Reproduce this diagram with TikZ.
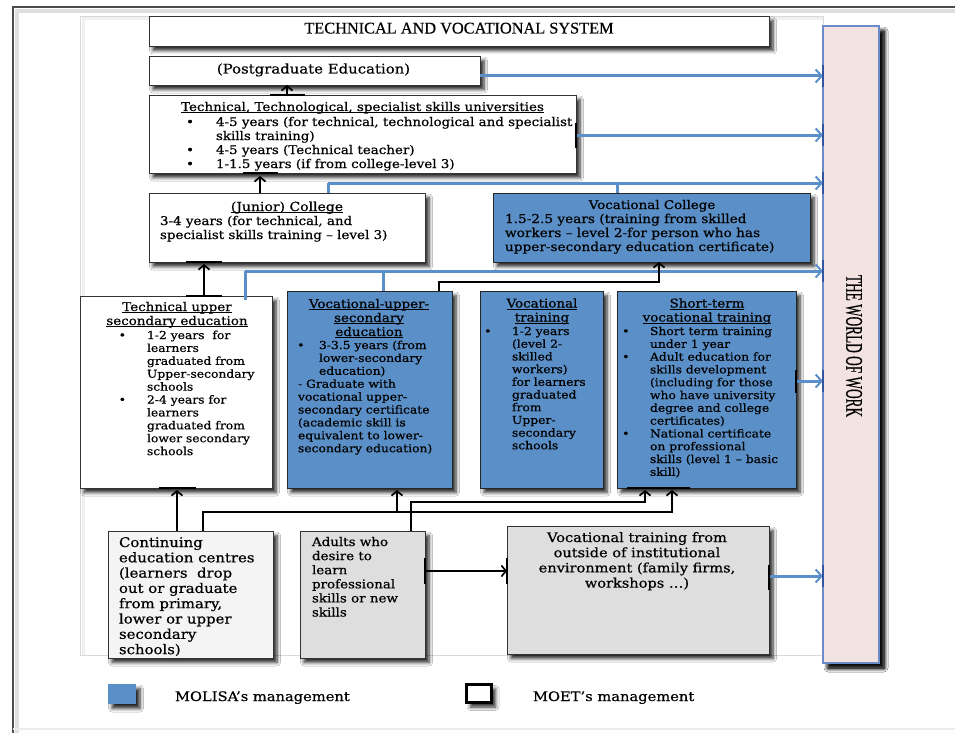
\documentclass[tikz,border=0pt]{standalone}
\usepackage{fontspec}
\setmainfont[FakeStretch=1.12,FakeBold=0.6]{DejaVu Serif}
\newfontfamily\ttlfont[FakeBold=0.4]{Liberation Serif}
\newcommand\ulx[1]{\setbox0\hbox{#1}\rlap{\rule[-2pt]{\wd0}{0.8pt}}\box0}
\usetikzlibrary{arrows.meta,shadows.blur}
\definecolor{molisa}{HTML}{5A8FC7}
\definecolor{bline}{HTML}{5B8FC9}
\definecolor{bdark}{HTML}{2F55A4}
\definecolor{wwfill}{HTML}{F2E2E0}
\definecolor{wwedge}{HTML}{6B8CC9}
\definecolor{greybox}{HTML}{DEDEDE}
\definecolor{lightbox}{HTML}{F4F4F4}
\newcommand\fs{\rule{0pt}{10pt}}
\newcommand\bu[1]{\llap{•\hspace{#1}}}
\begin{document}
\begin{tikzpicture}[x=1pt,y=-1pt,
  shad/.style={blur shadow={shadow xshift=4pt,shadow yshift=-4.5pt,shadow blur steps=6,shadow blur radius=3.5pt,shadow opacity=85}},
  box/.style={draw=black!80,line width=0.9pt,fill=white,anchor=north west,inner sep=0pt,outer sep=0pt,shad},
  bluebox/.style={box,fill=molisa,draw=black!85},
  greybx/.style={box,fill=greybox},
  txt/.style={align=left,anchor=north west,inner sep=0pt,outer sep=0pt,font=\fontsize{12}{14}\selectfont},
  smalltxt/.style={txt,font=\fontsize{11}{12.9}\selectfont},
  ttl/.style={inner sep=0pt,outer sep=0pt,anchor=base,font=\fontsize{12}{14}\selectfont},
  ttlc/.style={align=center,anchor=north,inner sep=0pt,outer sep=0pt,font=\fontsize{12}{14}\selectfont},
  blk/.style={line width=2.3pt,black,-{Straight Barb[length=4.5pt,width=11pt,line width=1.7pt]}},
  thinarr/.style={line width=1.1pt,black,-{Straight Barb[length=4.5pt,width=11pt,line width=1.7pt]}},
  barl/.style={line width=2.4pt,black},
  bluearr/.style={line width=3pt,bline,-{Straight Barb[length=6pt,width=13pt,line width=2pt]}},
  blueln/.style={line width=3pt,bline},
  bdarkl/.style={line width=2.5pt,bdark}
]
\useasboundingbox (0,0) rectangle (955,733);
\fill[white] (0,0) rectangle (955,733);
% outer frame
\draw[gray!25,line width=4pt] (17,733) -- (17,11) -- (955,11);
\draw[black!70,line width=1.3pt] (13,733) -- (13,7) -- (955,7);
\draw[gray!15,line width=1.5pt] (13,729) -- (955,729);
% inner frame
\draw[gray!12,line width=3pt] (83,655) -- (83,19) -- (823,19);
\draw[gray!30,line width=0.8pt] (80,655) -- (80,16) -- (823,16) -- (823,26);
\draw[gray!30,line width=0.8pt] (80,655) -- (823,655);

% boxes
\node[box,minimum width=620pt,minimum height=30pt] (tv) at (149,16) {};
\node[inner sep=0pt,anchor=base,font=\ttlfont\fontsize{16.3}{18}\selectfont] (tvt) at (459,33.5) {TECHNICAL AND VOCATIONAL SYSTEM};

\node[box,minimum width=331pt,minimum height=29pt] (pg) at (149,56) {};
\node[ttl,font=\fontsize{13.3}{15}\selectfont] (pgt) at (313.5,73.5) {(Postgraduate Education)};

\node[box,minimum width=427pt,minimum height=78pt] (un) at (149,95) {};
\node[ttl] (unt) at (362.5,111) {\ulx{Technical, Technological, specialist skills universities}};
\node[txt] (unb) at (216,116) {\fs\bu{22pt}4-5 years (for technical, technological and specialist\\skills training)\\\bu{22pt}4-5 years (Technical teacher)\\\bu{22pt}1-1.5 years (if from college-level 3)};

\node[box,minimum width=276pt,minimum height=69pt] (jc) at (149,193) {};
\node[ttl,font=\fontsize{12.5}{14}\selectfont] (jct) at (287,211) {\ulx{(Junior) College}};
\node[txt] (jcb) at (160,215) {\fs 3-4 years (for technical, and\\specialist skills training – level 3)};

\node[bluebox,minimum width=317pt,minimum height=69pt] (vc) at (493,193) {};
\node[ttl] (vct) at (652,209) {Vocational College};
\node[txt,font=\fontsize{12.2}{14}\selectfont] (vcb) at (505,213) {\fs 1.5-2.5 years (training from skilled\\workers – level 2-for person who has\\upper-secondary education certificate)};

\node[box,minimum width=192pt,minimum height=192pt] (tus) at (80,296) {};
\node[ttlc] (tust) at (177,301) {\fs\ulx{Technical upper}\\\ulx{secondary education}};
\node[smalltxt] (tusb) at (147,329) {\fs\bu{21pt}1-2 years\ \ for\\learners\\graduated from\\Upper-secondary\\schools\\\bu{21pt}2-4 years for\\learners\\graduated from\\lower secondary\\schools};

\node[bluebox,minimum width=165pt,minimum height=197pt] (vus) at (287,291) {};
\node[ttlc] (vust) at (369,298) {\fs\ulx{Vocational-upper-}\\\ulx{secondary}\\\ulx{education}};
\node[smalltxt] (vusb) at (298,339) {\fs\hspace*{21pt}\bu{14.5pt}3-3.5 years (from\\\hspace*{21pt}lower-secondary\\\hspace*{21pt}education)\\- Graduate with\\vocational upper-\\secondary certificate\\(academic skill is\\equivalent to lower-\\secondary education)};

\node[bluebox,minimum width=123pt,minimum height=197pt] (vt) at (480,291) {};
\node[ttlc] (vtt) at (542,297.5) {\fs\ulx{Vocational}\\\ulx{training}};
\node[smalltxt,font=\fontsize{11}{12.7}\selectfont] (vtb) at (512,325) {\fs\bu{20.5pt}1-2 years\\(level 2-\\skilled\\workers)\\for learners\\graduated\\from\\Upper-\\secondary\\schools};

\node[bluebox,minimum width=179pt,minimum height=197pt] (st) at (617,291) {};
\node[ttlc] (stt) at (707,297.5) {\fs\ulx{Short-term}\\\ulx{vocational training}};
\node[smalltxt,font=\fontsize{11}{12.8}\selectfont] (stb) at (650,325) {\fs\bu{20.5pt}Short term training\\under 1 year\\\bu{20.5pt}Adult education for\\skills development\\(including for those\\who have university\\degree and college\\certificates)\\\bu{20.5pt}National certificate\\on professional\\skills (level 1 – basic\\skill)};

\node[box,fill=wwfill,draw=wwedge,line width=1.2pt,minimum width=56pt,minimum height=637pt,
  blur shadow={shadow xshift=5pt,shadow yshift=-5pt,shadow blur steps=6,shadow blur radius=4pt,shadow opacity=85}] (ww) at (823,26) {};
\node[rotate=-90,inner sep=0pt,font=\ttlfont\fontsize{13.3}{15}\selectfont] (wwt) at (854,346) {\scalebox{1}[1.8]{THE WORLD OF WORK}};

\node[box,fill=lightbox,minimum width=165pt,minimum height=127pt] (ce) at (108,531) {};
\node[txt,font=\fontsize{13.3}{15.3}\selectfont] (ceb) at (119,537) {\fs Continuing\\education centres\\(learners\ \ drop\\out or graduate\\from primary,\\lower or upper\\secondary\\schools)};

\node[greybx,minimum width=125pt,minimum height=127pt] (ad) at (300,531) {};
\node[txt,font=\fontsize{12}{14.1}\selectfont] (adb) at (312,536) {\fs Adults who\\desire to\\learn\\professional\\skills or new\\skills};

\node[greybx,minimum width=262pt,minimum height=128pt] (ob) at (507,526) {};
\node[ttlc,font=\fontsize{13}{15.2}\selectfont] (obb) at (637,532) {\fs Vocational training from\\outside of institutional\\environment (family firms,\\workshops …)};

% legend
\node[box,draw=none,fill=molisa,minimum width=28pt,minimum height=20pt] (lb) at (108,684) {};
\node[ttl,anchor=base west,font=\fontsize{13.1}{15}\selectfont] (lbt) at (175,701) {MOLISA’s management};
\node[box,draw=black,line width=3pt,minimum width=25pt,minimum height=18pt] (lw) at (466.5,684.5) {};
\node[ttl,anchor=base west,font=\fontsize{13.1}{15}\selectfont] (lwt) at (533,701) {MOET’s management};

% blue connectors to the world of work
\draw[bluearr] ([yshift=-20pt]pg.north east) coordinate (p1) -- (p1 -| ww.west);
\draw[bluearr] ([yshift=-40pt]un.north east) coordinate (p2) -- (p2 -| ww.west);
\draw[blueln] ([xshift=179pt]jc.north west) coordinate (p3a) -- ++(0pt,10pt) coordinate (p3);
\draw[bluearr] (p3) -- (p3 -| ww.west);
\draw[blueln] ([xshift=124pt]vc.north west) -- ([xshift=124pt]vc.north west |- p3);
\draw[blueln] ([xshift=165pt,yshift=-4pt]tus.north west) coordinate (p4a) -- ++(0pt,29pt) coordinate (p4);
\draw[bluearr] (p4) -- (p4 -| ww.west);
\draw[blueln] ([xshift=96pt]vus.north west) -- ([xshift=96pt]vus.north west |- p4);
\draw[bluearr] ([yshift=-90pt]st.north east) coordinate (p5) -- (p5 -| ww.west);
\draw[bluearr] ([yshift=-50pt]ob.north east) coordinate (p6) -- (p6 -| ww.west);
% start bars and end marks
\draw[barl] ([yshift=-28pt]un.north east) -- ([yshift=-53pt]un.north east);
\draw[barl] ([yshift=-79pt]st.north east) -- ([yshift=-102pt]st.north east);
\draw[barl] ([yshift=-39pt]ob.north east) -- ([yshift=-64pt]ob.north east);
\foreach \p in {p1,p2,p3,p4,p5,p6}{
  \draw[bdarkl] ([yshift=11pt]\p -| ww.west) -- ([yshift=-11pt]\p -| ww.west);
}

% black connectors
\draw[blk] ([xshift=138pt]un.north west) coordinate (a1) -- (a1 |- pg.south);
\draw[barl] ([xshift=-17.5pt]a1) -- ([xshift=17.5pt]a1);

\draw[blk,shorten >=3pt] ([xshift=111pt]jc.north west) coordinate (a2) -- (a2 |- un.south) coordinate (a2e);
\draw[barl] ([xshift=-17.5pt]a2e) -- ([xshift=17.5pt]a2e);

\draw[blk,shorten >=2pt] ([xshift=124pt]tus.north west) coordinate (a3) -- (a3 |- jc.south) coordinate (a3e);
\draw[barl] ([xshift=-18pt]a3) -- ([xshift=18pt]a3);
\draw[barl] ([xshift=-18pt]a3e) -- ([xshift=18pt]a3e);

\draw[blk,shorten >=2pt] ([xshift=69pt]ce.north west) coordinate (a4) -- (a4 |- tus.south) coordinate (a4e);
\draw[barl] ([xshift=-18.5pt]a4e) -- ([xshift=18.5pt]a4e);

\coordinate (s1) at ([xshift=28pt]st.south west);
\coordinate (s2) at ([xshift=55pt]st.south west);
\draw[blk,shorten >=2pt] ([xshift=95pt]ce.north west) coordinate (c5) -- ++(0pt,19pt) coordinate (c5b) -- (c5b -| s2) -- (s2);
\coordinate (v5) at ([xshift=110pt]vus.south west);
\draw[blk,shorten >=2pt] (v5 |- c5b) coordinate (v5b) -- (v5);
\draw[barl] ([xshift=-19pt]v5b) -- ([xshift=19pt]v5b);
\draw[blk,shorten >=2pt,line width=2.6pt] ([xshift=111pt]ad.north west) coordinate (c6) -- ++(0pt,29pt) coordinate (c6b) -- (c6b -| s1) -- (s1);
\draw[barl] ([xshift=10pt]st.south west) -- ([xshift=73pt]st.south west);

\coordinate (v7) at ([xshift=166pt]vc.south west);
\draw[thinarr] ([xshift=152pt]vus.north west) coordinate (c7) -- ++(0pt,9pt) coordinate (c7b) -- (c7b -| v7) -- (v7);

\draw[blk] ([yshift=-40pt]ad.north east) coordinate (c8) -- (c8 -| ob.west) coordinate (c8e);
\draw[barl] ([yshift=13pt]c8) -- ([yshift=-13pt]c8);
\draw[barl] ([yshift=13pt]c8e) -- ([yshift=-13pt]c8e);
\end{tikzpicture}
\end{document}
